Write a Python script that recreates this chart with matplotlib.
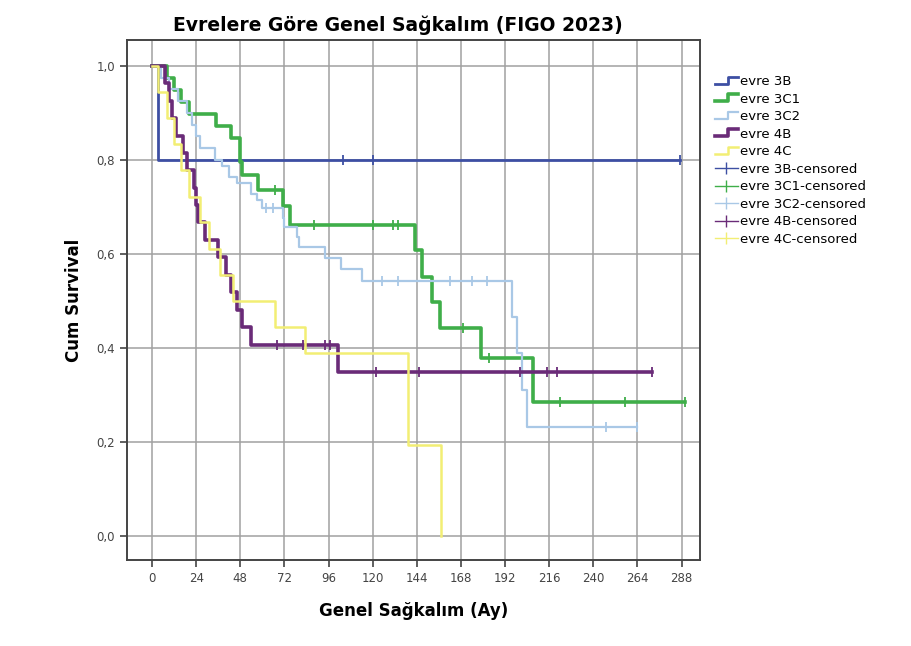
import numpy as np
import matplotlib
matplotlib.use("Agg")
import matplotlib.pyplot as plt
from matplotlib.lines import Line2D
from matplotlib.legend_handler import HandlerBase

plt.rcParams['font.family'] = ['DejaVu Sans']

# survival steps (time in months, survival after the step)
t_3b = [0, 3]
s_3b = [1.0, 0.8]
c_3b = [104, 120, 287]
end_3b = 287

t_3c1 = [0, 8, 12, 16, 20, 35, 43, 48, 49, 57.5, 71, 75, 143, 147, 152, 156.5, 179, 207]
s_3c1 = [1.0, 0.974, 0.949, 0.923, 0.897, 0.872, 0.846, 0.795, 0.768, 0.737, 0.701, 0.662,
         0.609, 0.551, 0.498, 0.443, 0.379, 0.285]
c_3c1 = [67, 88, 120, 131, 134, 169, 183, 222, 257, 290]
end_3c1 = 290

t_3c2 = [0, 5, 9, 14, 19, 22, 24, 26, 34, 38, 42, 46, 54, 57, 60, 71, 72, 79, 80, 94, 103, 114,
         196, 198.5, 201, 204]
s_3c2 = [1.0, 0.975, 0.95, 0.925, 0.90, 0.875, 0.85, 0.825, 0.80, 0.788, 0.764, 0.751, 0.727,
         0.715, 0.698, 0.677, 0.657, 0.636, 0.615, 0.592, 0.568, 0.543, 0.466, 0.39, 0.31, 0.232]
c_3c2 = [62, 66, 125, 134, 162, 174, 182, 247, 264]
end_3c2 = 264

t_4b = [0, 7, 9, 11, 13, 17, 19, 23, 24, 25, 29, 36, 40, 43, 46, 49, 54, 101]
s_4b = [1.0, 0.963, 0.926, 0.889, 0.852, 0.815, 0.778, 0.741, 0.704, 0.667, 0.630, 0.593,
        0.556, 0.519, 0.481, 0.444, 0.407, 0.349]
c_4b = [68, 82, 94, 97, 122, 145, 200, 215, 220, 272]
end_4b = 272

t_4c = [0, 3, 8, 12, 16, 20, 26, 31, 37, 44, 67, 83, 139, 157]
s_4c = [1.0, 0.944, 0.889, 0.833, 0.778, 0.722, 0.667, 0.611, 0.556, 0.5, 0.444, 0.389, 0.194, 0.0]
c_4c = []
end_4c = 157

labels = ['evre 3B', 'evre 3C1', 'evre 3C2', 'evre 4B', 'evre 4C']
colors = ['#3d4fa3', '#3fae49', '#a9c8e6', '#6a2b78', '#f2ee74']
widths = [2.0, 2.6, 1.6, 2.6, 1.8]

groups = [(t_3b, s_3b, c_3b, end_3b), (t_3c1, s_3c1, c_3c1, end_3c1),
          (t_3c2, s_3c2, c_3c2, end_3c2), (t_4b, s_4b, c_4b, end_4b),
          (t_4c, s_4c, c_4c, end_4c)]


class StepHandler(HandlerBase):
    def create_artists(self, legend, orig_handle, xdescent, ydescent, width, height, fontsize, trans):
        x0 = -xdescent
        y0 = -ydescent
        xs = [x0, x0 + 0.55 * width, x0 + 0.55 * width, x0 + width]
        ys = [y0 + 0.15 * height, y0 + 0.15 * height, y0 + 0.9 * height, y0 + 0.9 * height]
        ln = Line2D(xs, ys, color=orig_handle.get_color(), lw=orig_handle.get_linewidth(),
                    transform=trans)
        return [ln]


fig = plt.figure(figsize=(9.11, 6.46), dpi=100)
ax = fig.add_axes([0.1394, 0.133, 0.6286, 0.805])

# draw order so the thick lines sit on top of the pale ones
order = [2, 4, 3, 1, 0]
for i in order:
    t, s, c, end = groups[i]
    xs = list(t) + [end]
    ys = list(s) + [s[-1]]
    ax.step(xs, ys, where='post', color=colors[i], lw=widths[i], zorder=3 + i * 0.1)
    if c:
        idx = np.searchsorted(t, c, side='right') - 1
        cy = np.array(s)[idx]
        ax.plot(c, cy, linestyle='none', marker='|', markersize=7, mew=1.3,
                color=colors[i], zorder=3 + i * 0.1)

ax.set_xlim(-13.6, 297.8)
ax.set_ylim(-0.051, 1.055)
ax.set_xticks(np.arange(0, 289, 24))
ax.set_yticks([0, 0.2, 0.4, 0.6, 0.8, 1.0])
ax.set_yticklabels(['0,0', '0,2', '0,4', '0,6', '0,8', '1,0'])
ax.grid(True, color='#a0a0a0', lw=1.1)
ax.set_axisbelow(True)
ax.tick_params(labelsize=8.5, colors='#444444', length=5, width=1.2)
for sp in ax.spines.values():
    sp.set_color('#444444')
    sp.set_linewidth(1.4)

ax.set_xlabel('Genel Sağkalım (Ay)', fontsize=12, fontweight='bold', labelpad=12)
ax.set_ylabel('Cum Survival', fontsize=12, fontweight='bold', labelpad=10)
fig.text(398 / 911, 1 - 25 / 646, 'Evrelere Göre Genel Sağkalım (FIGO 2023)',
         ha='center', va='center', fontsize=13.5, fontweight='bold')

handles = []
for i in range(5):
    handles.append(Line2D([], [], color=colors[i], lw=widths[i]))
for i in range(5):
    handles.append(Line2D([], [], color=colors[i], lw=1.0, marker='|', markersize=9, mew=1.0))
leg_labels = labels + [l + '-censored' for l in labels]
hmap = {h: StepHandler() for h in handles[:5]}
fig.legend(handles, leg_labels, handler_map=hmap, loc='upper left',
           bbox_to_anchor=(710 / 911, 1 - 70 / 646), frameon=False, fontsize=9.5,
           handlelength=1.7, handletextpad=0.15, labelspacing=0.34, borderaxespad=0)

fig.savefig('out.png', dpi=100)
